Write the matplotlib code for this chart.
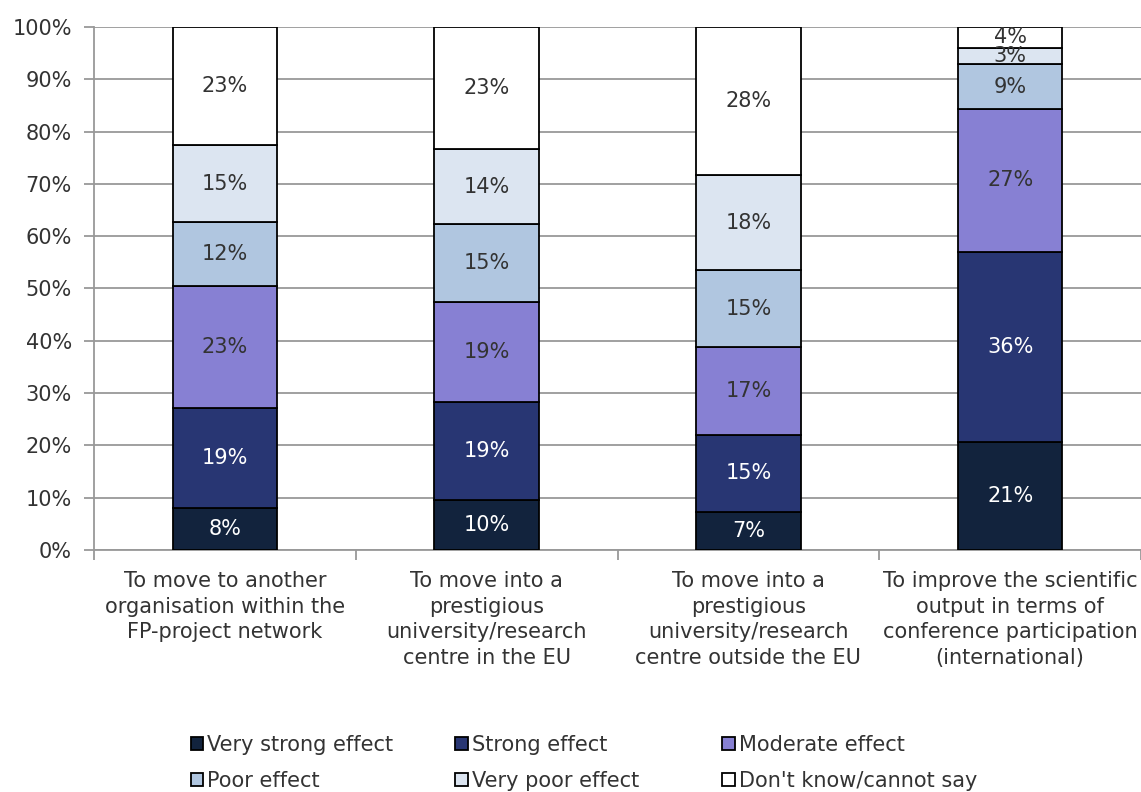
import numpy as np
import matplotlib
matplotlib.use("Agg")
import matplotlib.pyplot as plt

# Data (percent of respondents)
categories = [
    "To move to another\norganisation within the\nFP-project network",
    "To move into a\nprestigious\nuniversity/research\ncentre in the EU",
    "To move into a\nprestigious\nuniversity/research\ncentre outside the EU",
    "To improve the scientific\noutput in terms of\nconference participation\n(international)",
]
series_names = ["Very strong effect", "Strong effect", "Moderate effect",
                "Poor effect", "Very poor effect", "Don't know/cannot say"]
very_strong = [8.0, 9.6, 7.3, 20.6]
strong = [19.2, 18.7, 14.7, 36.4]
moderate = [23.3, 19.1, 16.8, 27.3]
poor = [12.2, 14.9, 14.7, 8.6]
very_poor = [14.7, 14.4, 18.2, 3.1]
dont_know = [22.6, 23.3, 28.3, 4.0]

colors = ["#12233D", "#283673", "#8780D3", "#B0C6E0", "#DCE5F1", "#FFFFFF"]
text_colors = ["white", "white", "#333333", "#333333", "#333333", "#333333"]

plt.rcParams["font.family"] = "DejaVu Sans"

fig = plt.figure(figsize=(11.41, 7.92), dpi=100)
ax = fig.add_axes([0.0824, 0.3056, 0.9176, 0.6603])

series = [very_strong, strong, moderate, poor, very_poor, dont_know]
x = np.arange(len(categories))
bottom = np.zeros(len(categories))
handles = []
for vals, name, col, tcol in zip(series, series_names, colors, text_colors):
    vals = np.array(vals)
    bars = ax.bar(x, vals, width=0.4, bottom=bottom, color=col,
                  edgecolor="black", linewidth=1.3, label=name, zorder=3)
    handles.append(bars)
    for xi, b, v in zip(x, bottom, vals):
        ax.text(xi, b + v / 2, f"{round(v):.0f}%", ha="center", va="center",
                fontsize=15, color=tcol, zorder=4)
    bottom = bottom + vals

ax.set_xlim(-0.5, len(categories) - 0.5)
ax.set_ylim(0, 100)
ax.set_yticks(np.arange(0, 101, 10))
ax.set_yticklabels([f"{v}%" for v in range(0, 101, 10)], fontsize=15, color="#333333")
ax.yaxis.grid(True, color="#999999", linewidth=1.3, zorder=0)

# category boundaries as x ticks, labels as minor ticks
ax.set_xticks(np.arange(-0.5, len(categories), 1))
ax.set_xticklabels([])
ax.set_xticks(x, minor=True)
ax.set_xticklabels(categories, minor=True, fontsize=15, color="#333333",
                   linespacing=1.36, va="top")
ax.tick_params(axis="x", which="minor", length=0, pad=15)
ax.tick_params(axis="x", which="major", length=7, width=1.3, color="#999999", direction="out")
ax.tick_params(axis="y", length=7, width=1.3, color="#999999", direction="out", pad=9)

for side in ["top", "right"]:
    ax.spines[side].set_visible(False)
ax.spines["left"].set_color("#999999")
ax.spines["bottom"].set_color("#999999")
ax.spines["left"].set_linewidth(1.3)
ax.spines["bottom"].set_linewidth(1.3)

# legend, three columns placed separately
col_x = [0.158, 0.390, 0.624]
for j in range(3):
    fig.legend([handles[j], handles[j + 3]], [series_names[j], series_names[j + 3]],
               loc="upper left", bbox_to_anchor=(col_x[j], 0.085),
               bbox_transform=fig.transFigure, frameon=False, fontsize=15,
               handlelength=0.6, handleheight=0.6, handletextpad=0.2,
               labelspacing=0.75, borderpad=0, labelcolor="#333333")

fig.savefig("out.png", dpi=100)
